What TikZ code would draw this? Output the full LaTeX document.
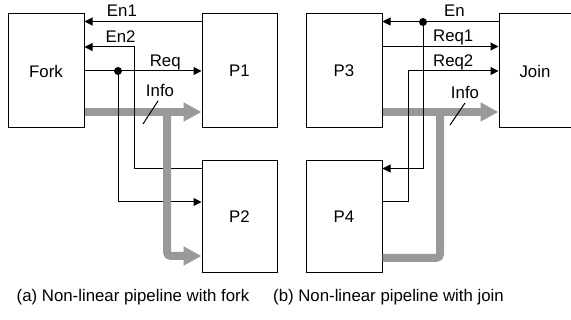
\documentclass[tikz,border=0pt]{standalone}
\usepackage{fontspec}
\setmainfont{Liberation Sans}
\usetikzlibrary{arrows.meta,positioning,calc}

\begin{document}
\begin{tikzpicture}[
    x=1pt, y=-1pt,
    >={Triangle[length=8pt,width=8pt]},
    font=\fontsize{16.8}{19}\selectfont,
    box/.style={draw, rectangle, line width=1pt, minimum width=76pt, minimum height=114pt, inner sep=0pt},
    sig/.style={line width=1pt},
    lbl/.style={above, inner sep=0pt, yshift=4pt, text depth=0pt},
    info/.style={line width=8pt, draw=black!40, rounded corners=4pt},
    infotip/.style={info, -{Triangle[length=18pt,width=18pt]}},
    dot/.style={fill, circle, inner sep=0pt, minimum size=8pt}
]
    \useasboundingbox (0,0) rectangle (571,320);

    % (a) fork
    \node[box] (Fork) at (46,71) {Fork};
    \node[box, minimum width=75pt, right=117pt of Fork] (P1) {P1};
    \node[box, minimum width=75pt, minimum height=112pt, below=32pt of P1] (P2) {P2};

    \coordinate (e2) at (134,47);
    \coordinate (ib) at (167,112);

    % Info bus
    \draw[infotip] ([yshift=-41pt]Fork.east) -- ([yshift=-41pt]P1.west);

    % Enables and request
    \draw[sig,->] ([yshift=-8pt]P1.north west) -- node[lbl, pos=0.68] {En1} ([yshift=-8pt]Fork.north east);
    \draw[sig,->] ([yshift=-8pt]P2.north west) -| (e2) -- node[lbl, pos=0.27] {En2} (Fork.east |- e2);
    \draw[sig,->] (Fork) -- node[lbl, pos=0.69] {Req} (P1);
    \node[dot] (split) at (118,71) {};
    \draw[sig,->] (split) |- ([yshift=15pt]P2.west);

    % Info branch
    \draw[infotip] (ib) |- ([yshift=-39pt]P2.west);
    \draw[sig] (143,124) -- (158,101) node[lbl, xshift=2pt] {Info};

    % (b) join
    \node[box] (P3) at (344,71) {P3};
    \node[box, minimum width=72pt, right=116pt of P3] (Join) {Join};
    \node[box, minimum height=112pt, below=32pt of P3] (P4) {P4};

    \coordinate (r2) at (408,71);
    \coordinate (jb) at (440,112);

    % Info bus
    \draw[infotip] ([yshift=-41pt]P3.east) -- ([yshift=-41pt]Join.west);

    % Enable and requests
    \draw[sig,->] ([yshift=-8pt]Join.north west) -- node[lbl, pos=0.38] {En} ([yshift=-8pt]P3.north east);
    \node[dot] (merge) at (423,22) {};
    \draw[sig,->] (merge) |- ([yshift=-8pt]P4.north east);
    \draw[sig,->] ([yshift=-33pt]P3.north east) -- node[lbl, pos=0.61] {Req1} ([yshift=-33pt]Join.north west);
    \draw[sig,->] ([yshift=15pt]P4.east) -| (r2) -- node[lbl, pos=0.5] {Req2} (Join);

    % Info branch
    \draw[info] ([yshift=-41pt]P4.east) -| (jb);
    \draw[sig] (450,125) -- (465,103) node[lbl] {Info};

    % Captions
    \node[anchor=base] (capa) at (133,302) {(a) Non-linear pipeline with fork};
    \node[anchor=base] (capb) at (388.5,302) {(b) Non-linear pipeline with join};
\end{tikzpicture}
\end{document}
